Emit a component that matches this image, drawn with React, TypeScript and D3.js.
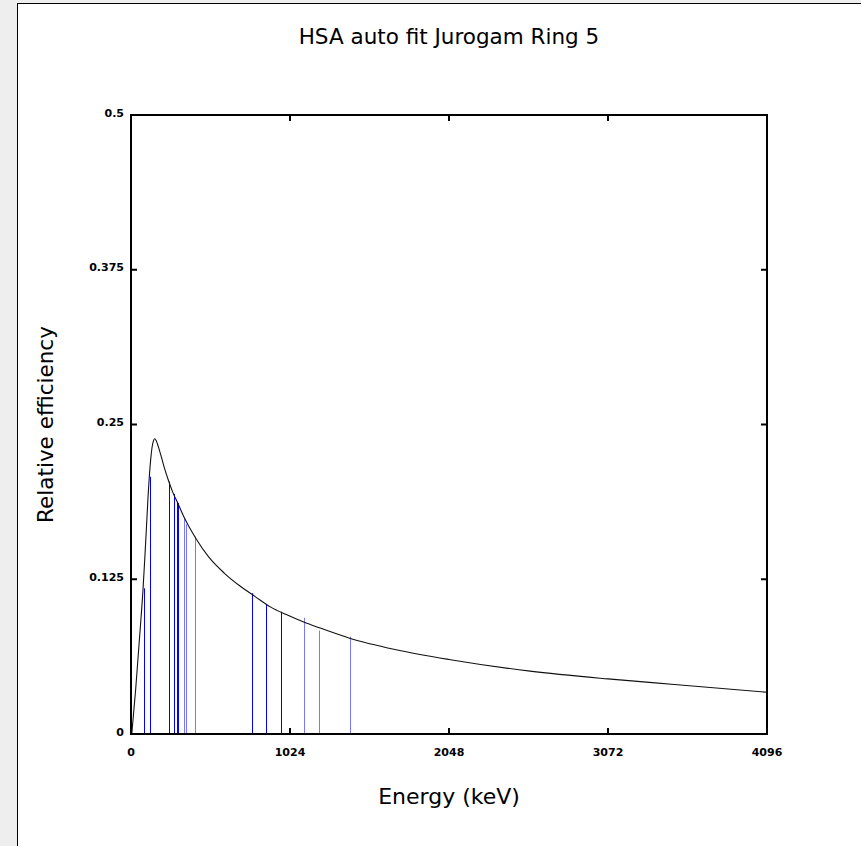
import React from "react";
import * as d3 from "d3";

const title = "HSA auto fit Jurogam Ring 5";
const xLabel = "Energy (keV)";
const yLabel = "Relative efficiency";

const xTicks = [0, 1024, 2048, 3072, 4096];
const yTicks = [0, 0.125, 0.25, 0.375, 0.5];
const yTickLabels = ["0", "0.125", "0.25", "0.375", "0.5"];

// fitted efficiency curve
const curveE = [5, 30, 60, 77, 88, 100, 110, 118, 127, 135, 145, 153, 162, 175, 195, 215, 238, 270, 303, 346, 420, 500, 600, 702, 800, 900, 1000, 1112, 1213, 1408, 1700, 2048, 2570, 3072, 3500, 4096];
const curveV = [0, 0.036, 0.086, 0.116, 0.14, 0.168, 0.192, 0.208, 0.222, 0.231, 0.237, 0.2385, 0.237, 0.2325, 0.224, 0.215, 0.206, 0.195, 0.186, 0.174, 0.1575, 0.143, 0.13, 0.1195, 0.111, 0.1025, 0.0965, 0.0905, 0.0858, 0.0774, 0.0683, 0.0602, 0.0508, 0.0445, 0.04, 0.0337];

// measured peaks
const peakE = [81.0, 121.8, 244.7, 276.4, 295.9, 302.9, 344.3, 356.0, 411.1, 778.9, 867.4, 964.1, 1112.1, 1212.9, 1408.0];
const peakV = [0.1177, 0.2078, 0.2038, 0.1939, 0.1876, 0.1866, 0.1742, 0.1694, 0.1594, 0.1137, 0.1048, 0.0988, 0.0939, 0.0836, 0.0786];
const peakGroup = ["a", "a", "a", "a", "a", "a", "b", "b", "b", "a", "a", "a", "b", "b", "b"];

const W = 861;
const H = 846;
const M = { left: 131, right: 767, top: 115, bottom: 734 };
const FONT = "DejaVu Sans, Verdana, sans-serif";

export default function App() {
  const x = d3.scaleLinear().domain([0, 4096]).range([M.left, M.right]);
  const y = d3.scaleLinear().domain([0, 0.5]).range([M.bottom, M.top]);

  const pts = curveE.map((e, i) => [e, curveV[i]] as [number, number]);
  const line = d3
    .line<[number, number]>()
    .x((d) => x(d[0]))
    .y((d) => y(d[1]))
    .curve(d3.curveMonotoneX);

  const groupColor: Record<string, string> = { a: "#0000ff", b: "#7777ff" };
  const tickLen = 6;
  const cx = (M.left + M.right) / 2;

  return (
    <svg
      width={W}
      height={H}
      style={{ position: "absolute", left: 0, top: 0 }}
      fontFamily={FONT}
    >
      <rect x={0} y={0} width={W} height={H} fill="#eeeeee" />
      <rect x={17.5} y={3.5} width={W + 10} height={H + 10} fill="#ffffff" stroke="#000" strokeWidth={1} />

      <text x={cx} y={44} textAnchor="middle" fontSize={21.5} fill="#000">
        {title}
      </text>

      {/* peaks */}
      {peakE.map((e, i) => (
        <line
          key={"p" + i}
          x1={Math.round(x(e)) + 0.5}
          x2={Math.round(x(e)) + 0.5}
          y1={y(0)}
          y2={y(peakV[i])}
          stroke={groupColor[peakGroup[i]]}
          strokeWidth={1}
        />
      ))}

      {/* curve */}
      <path d={line(pts) || ""} fill="none" stroke="#111" strokeWidth={1.1} />

      {/* ticks */}
      {xTicks.slice(1, -1).map((t) => (
        <g key={"xt" + t}>
          <line x1={x(t)} x2={x(t)} y1={M.bottom} y2={M.bottom - tickLen} stroke="#000" strokeWidth={2} />
          <line x1={x(t)} x2={x(t)} y1={M.top} y2={M.top + tickLen} stroke="#000" strokeWidth={2} />
        </g>
      ))}
      {yTicks.slice(1, -1).map((t) => (
        <g key={"yt" + t}>
          <line x1={M.left} x2={M.left + tickLen} y1={y(t)} y2={y(t)} stroke="#000" strokeWidth={2} />
          <line x1={M.right} x2={M.right - tickLen} y1={y(t)} y2={y(t)} stroke="#000" strokeWidth={2} />
        </g>
      ))}

      {/* frame */}
      <rect
        x={M.left}
        y={M.top}
        width={M.right - M.left}
        height={M.bottom - M.top}
        fill="none"
        stroke="#000"
        strokeWidth={2}
      />

      {/* tick labels */}
      {xTicks.map((t) => (
        <text key={"xl" + t} x={x(t)} y={M.bottom + 22} textAnchor="middle" fontSize={11} fontWeight="bold" fill="#000">
          {t}
        </text>
      ))}
      {yTicks.map((t, i) => (
        <text key={"yl" + t} x={M.left - 7} y={y(t) + 1.5} textAnchor="end" fontSize={11} fontWeight="bold" fill="#000">
          {yTickLabels[i]}
        </text>
      ))}

      <text x={cx} y={804} textAnchor="middle" fontSize={22} fill="#000">
        {xLabel}
      </text>
      <text
        transform={`translate(53, ${(M.top + M.bottom) / 2}) rotate(-90)`}
        textAnchor="middle"
        fontSize={21.5}
        fill="#000"
      >
        {yLabel}
      </text>
    </svg>
  );
}
